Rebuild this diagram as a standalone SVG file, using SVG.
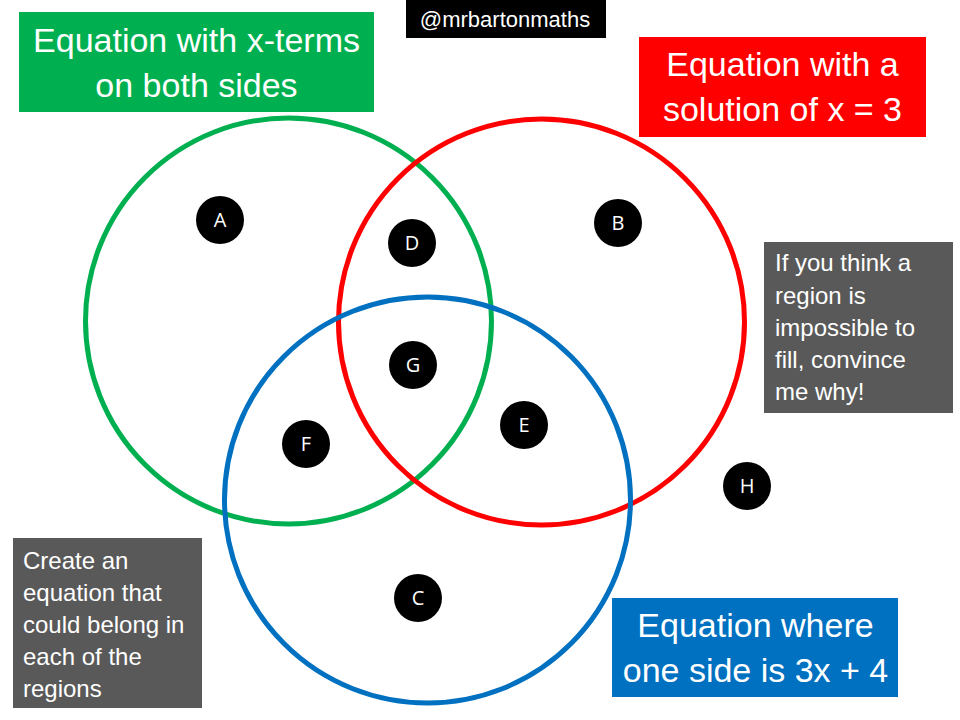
<svg xmlns="http://www.w3.org/2000/svg" width="960" height="720" viewBox="0 0 960 720">
<style>
.ring{fill:none;stroke-width:5}
.dot circle{fill:#000}
.dot text{fill:#fff;font-family:"Open Sans","Liberation Sans",sans-serif;font-size:20px;text-anchor:middle}
.big{fill:#fff;font-family:"Liberation Sans",Arial,sans-serif;font-size:34px;text-anchor:middle}
.note{fill:#fff;font-family:"Liberation Sans",Arial,sans-serif;font-size:24px}
</style>
<rect width="960" height="720" fill="#fff"/>
<g id="connectors"></g>
<g id="set-green"><circle class="ring" cx="288.5" cy="321" r="203" stroke="#00B050"/></g>
<g id="set-red"><circle class="ring" cx="541.5" cy="322" r="203" stroke="#FF0000"/></g>
<g id="set-blue"><circle class="ring" cx="427.5" cy="500" r="203" stroke="#0070C0"/></g>
<g id="label-green"><rect x="19" y="12" width="355" height="100" fill="#00B050"/>
<text class="big" x="196.5" y="52">Equation with x-terms</text>
<text class="big" x="196.5" y="97">on both sides</text></g>
<g id="label-red"><rect x="639" y="37" width="287" height="100" fill="#FF0000"/>
<text class="big" x="782.5" y="76">Equation with a</text>
<text class="big" x="782.5" y="121">solution of x = 3</text></g>
<g id="label-blue"><rect x="612" y="598" width="286" height="99" fill="#0070C0"/>
<text class="big" x="755.5" y="637">Equation where</text>
<text class="big" x="755.5" y="682" font-size="33">one side is 3x + 4</text></g>
<g id="credit"><rect x="406" y="0" width="200" height="38" fill="#000"/>
<text x="505" y="27" fill="#fff" font-family="Liberation Sans, Arial, sans-serif" font-size="22" text-anchor="middle">@mrbartonmaths</text></g>
<g id="note-right"><rect x="764" y="242" width="189" height="171" fill="#595959"/>
<text class="note" x="775" y="271">If you think a</text>
<text class="note" x="775" y="304">region is</text>
<text class="note" x="775" y="336">impossible to</text>
<text class="note" x="775" y="368">fill, convince</text>
<text class="note" x="775" y="400">me why!</text></g>
<g id="note-left"><rect x="13" y="538" width="189" height="170" fill="#595959"/>
<text class="note" x="23" y="569">Create an</text>
<text class="note" x="23" y="601">equation that</text>
<text class="note" x="23" y="633">could belong in</text>
<text class="note" x="23" y="665">each of the</text>
<text class="note" x="23" y="697">regions</text></g>
<g id="A" class="dot"><circle cx="220" cy="220" r="24"/><text x="220" y="227">A</text></g>
<g id="B" class="dot"><circle cx="618" cy="223" r="24"/><text x="618" y="230">B</text></g>
<g id="D" class="dot"><circle cx="412" cy="243" r="24"/><text x="412" y="250">D</text></g>
<g id="G" class="dot"><circle cx="413" cy="365" r="24"/><text x="413" y="372">G</text></g>
<g id="E" class="dot"><circle cx="524" cy="425" r="24"/><text x="524" y="432">E</text></g>
<g id="F" class="dot"><circle cx="306" cy="444" r="24"/><text x="306" y="451">F</text></g>
<g id="H" class="dot"><circle cx="747" cy="486" r="24"/><text x="747" y="493">H</text></g>
<g id="C" class="dot"><circle cx="418" cy="598" r="24"/><text x="418" y="605">C</text></g>
</svg>
